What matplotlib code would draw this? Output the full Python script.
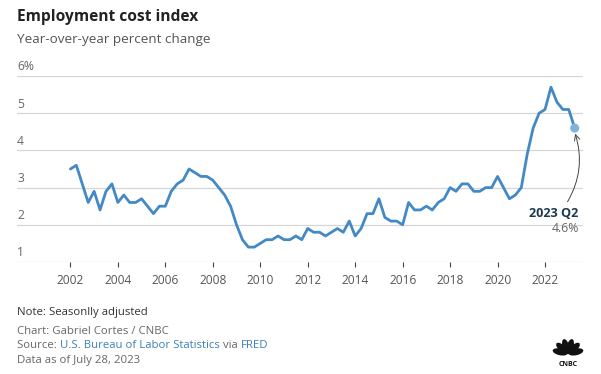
import matplotlib
matplotlib.use("Agg")
import matplotlib.pyplot as plt
from matplotlib.patches import Ellipse
import numpy as np

plt.rcParams['font.family'] = ['Open Sans', 'DejaVu Sans']

# ECI, year-over-year % change, quarterly 2002 Q1 .. 2023 Q2
start_year = 2002
eci = [3.5, 3.6, 3.1, 2.6,   2.9, 2.4, 2.9, 3.1,   2.6, 2.8, 2.6, 2.6,
       2.7, 2.5, 2.3, 2.5,   2.5, 2.9, 3.1, 3.2,   3.5, 3.4, 3.3, 3.3,
       3.2, 3.0, 2.8, 2.5,   2.0, 1.6, 1.4, 1.4,   1.5, 1.6, 1.6, 1.7,
       1.6, 1.6, 1.7, 1.6,   1.9, 1.8, 1.8, 1.7,   1.8, 1.9, 1.8, 2.1,
       1.7, 1.9, 2.3, 2.3,   2.7, 2.2, 2.1, 2.1,   2.0, 2.6, 2.4, 2.4,
       2.5, 2.4, 2.6, 2.7,   3.0, 2.9, 3.1, 3.1,   2.9, 2.9, 3.0, 3.0,
       3.3, 3.0, 2.7, 2.8,   3.0, 3.9, 4.6, 5.0,   5.1, 5.7, 5.3, 5.1,
       5.1, 4.6]
x_ticks = [2002, 2004, 2006, 2008, 2010, 2012, 2014, 2016, 2018, 2020, 2022]
y_ticks = [1, 2, 3, 4, 5, 6]
y_labels = ['1', '2', '3', '4', '5', '6%']
last_label = '2023 Q2'
last_value = '4.6%'

years = start_year + np.arange(len(eci)) * 0.25

W, H = 601, 374
fig = plt.figure(figsize=(W / 100, H / 100), dpi=100)
ax = fig.add_axes([17 / W, 1 - 262 / H, (583 - 17) / W, (262 - 76) / H])

line_color = '#4389c6'
grid_color = '#d6d6d6'

ax.plot(years, eci, color=line_color, lw=2.0, solid_joinstyle='round',
        solid_capstyle='round', zorder=3, clip_on=False)
ax.scatter([years[-1]], [eci[-1]], s=42, color='#7fb2dd', zorder=4,
           edgecolors='none', clip_on=False)

ax.set_xlim(1999.75, 2023.6)
ax.set_ylim(1, 6)
for spine in ax.spines.values():
    spine.set_visible(False)

for v in y_ticks:
    ax.axhline(v, color=grid_color, lw=0.9, zorder=1)
ax.set_yticks([])

for v, lab in zip(y_ticks, y_labels):
    ax.annotate(lab, xy=(0, v), xycoords=('axes fraction', 'data'),
                xytext=(0, 4), textcoords='offset points',
                ha='left', va='baseline', fontsize=8.7, color='#666666')

ax.set_xticks(x_ticks)
ax.set_xticklabels([str(y) for y in x_ticks])
ax.tick_params(axis='x', length=3.5, width=0.8, color='#444444', pad=5,
               labelsize=8.6, labelcolor='#555555')

# end-point annotation
ax.annotate('', xy=(years[-1] + 0.02, eci[-1] - 0.15), xytext=(2022.95, 2.62),
            arrowprops=dict(arrowstyle='->', color='#444444', lw=0.7,
                            connectionstyle='arc3,rad=0.22',
                            shrinkA=0, shrinkB=0))
ax.text(2023.42, 2.3, last_label, ha='right', va='center', fontsize=9.1,
        fontweight='bold', color='#1e3a4f')
ax.text(2023.42, 1.9, last_value, ha='right', va='center', fontsize=8.8,
        color='#666666')

# titles
fig.text(17 / W, 1 - 17 / H, 'Employment cost index', ha='left', va='center',
         fontsize=11.2, fontweight='bold', color='#222222')
fig.text(17 / W, 1 - 40 / H, 'Year-over-year percent change', ha='left',
         va='center', fontsize=9.7, color='#555555')

# footer
foot = 8.2
fig.text(17 / W, 1 - 313 / H, 'Note: Seasonlly adjusted', ha='left', va='center',
         fontsize=foot, color='#333333')
fig.text(17 / W, 1 - 332 / H, 'Chart: Gabriel Cortes / CNBC', ha='left',
         va='center', fontsize=foot, color='#666666')
prev = fig.text(17 / W, 1 - 346 / H, 'Source: ', ha='left', va='center',
                fontsize=foot, color='#666666')
for txt, col in [('U.S. Bureau of Labor Statistics', '#3f7fb8'),
                 (' via ', '#666666'), ('FRED', '#3f7fb8')]:
    prev = ax.annotate(txt, xy=(1, 0.5), xycoords=prev, ha='left', va='center',
                       fontsize=foot, color=col, annotation_clip=False)
fig.text(17 / W, 1 - 361 / H, 'Data as of July 28, 2023', ha='left',
         va='center', fontsize=foot, color='#666666')

# CNBC peacock mark
lax = fig.add_axes([552 / W, 1 - 367 / H, 32 / W, 28 / H])
lax.set_xlim(-1, 1)
lax.set_ylim(-0.6, 1.15)
lax.axis('off')
for ang in np.linspace(12, 168, 6):
    r = np.deg2rad(ang)
    lax.add_patch(Ellipse((0.5 * np.cos(r), 0.25 + 0.45 * np.sin(r)),
                          width=0.95, height=0.42, angle=ang,
                          color='#111111', lw=0))
lax.text(0, -0.42, 'CNBC', ha='center', va='center', fontsize=5,
         fontweight='bold', color='#111111')

fig.savefig('out.png', dpi=100)
